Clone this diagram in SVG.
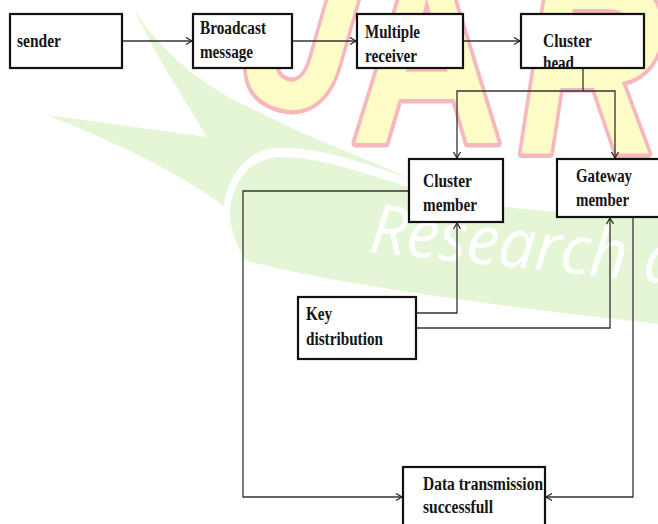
<svg xmlns="http://www.w3.org/2000/svg" width="658" height="524" viewBox="0 0 658 524">
  <style>
    .box { fill: #ffffff; stroke: #111111; stroke-width: 2.2; }
    .lbl { font-family: "Liberation Serif", "Times New Roman", serif; font-weight: bold; font-size: 18px; fill: #151515; }
    .wire { fill: none; stroke: #333333; stroke-width: 1.3; }
    .mark { font-family: "Liberation Sans", Arial, sans-serif; font-weight: bold; font-size: 250px; fill: #fefcc6; stroke: #f6b8be; stroke-width: 9; paint-order: stroke; stroke-linejoin: round; }
    .leaf { fill: #e4f6d5; }
  </style>
  <defs>
    <marker id="arrow" markerUnits="userSpaceOnUse" markerWidth="10" markerHeight="10" refX="7" refY="4" orient="auto">
      <path d="M1,0.5 L7,4 L1,7.5" fill="none" stroke="#222222" stroke-width="1.2"/>
    </marker>
  </defs>

  <rect width="658" height="524" fill="#ffffff"/>

  <!-- background watermark -->
  <g id="watermark">
    <!-- forked leaf -->
    <path class="leaf" d="M133,7 C155,55 185,100 207,137 L47,115 C110,140 175,170 224,206 C227,178 245,152 274,148 C320,146 370,165 412,180 C370,160 330,145 300,132 C270,118 245,105 233,100 C190,75 155,45 133,7 Z"/>
    <!-- sweeping band -->
    <path class="leaf" d="M230,215 C231,182 249,160 277,157 C320,156 370,175 420,191 C470,206 560,214 660,218 L660,324 C560,313 450,300 330,279 C290,271 262,265 245,260 C237,246 231,232 230,215 Z"/>
    <text class="mark" transform="translate(232,92) rotate(16) scale(0.78,1)">J</text>
    <text class="mark" transform="translate(350,143) scale(0.85,1)">A</text>
    <text class="mark" font-style="italic" transform="translate(518,153) scale(0.8,1)">R</text>
    <text x="368" y="252" transform="rotate(6 368 252)" font-family="'Open Sans', 'DejaVu Sans', sans-serif" font-style="italic" font-size="68" fill="#ffffff" textLength="312" lengthAdjust="spacingAndGlyphs">Research a</text>
  </g>

  <!-- connectors -->
  <g id="connectors">
    <path class="wire" d="M122,41 H192" marker-end="url(#arrow)"/>
    <path class="wire" d="M292,41 H356" marker-end="url(#arrow)"/>
    <path class="wire" d="M463,41 H520" marker-end="url(#arrow)"/>
    <path class="wire" d="M583,68 V91"/>
    <path class="wire" d="M583,91 H457 V158" marker-end="url(#arrow)"/>
    <path class="wire" d="M583,91 H615 V158" marker-end="url(#arrow)"/>
    <path class="wire" d="M409,191 H243 V497 H402" marker-end="url(#arrow)"/>
    <path class="wire" d="M416,313 H457 V223" marker-end="url(#arrow)"/>
    <path class="wire" d="M416,328 H610 V218" marker-end="url(#arrow)"/>
    <path class="wire" d="M633,217 V497 H546" marker-end="url(#arrow)"/>
  </g>

  <g id="sender">
    <rect class="box" x="10" y="14" width="112" height="54"/>
    <text class="lbl" x="17" y="47" textLength="44" lengthAdjust="spacingAndGlyphs">sender</text>
  </g>

  <g id="broadcast-message">
    <rect class="box" x="193" y="14" width="99" height="54"/>
    <text class="lbl" x="200" y="34" textLength="66" lengthAdjust="spacingAndGlyphs">Broadcast</text>
    <text class="lbl" x="200" y="58" textLength="53" lengthAdjust="spacingAndGlyphs">message</text>
  </g>

  <g id="multiple-receiver">
    <rect class="box" x="357" y="14" width="106" height="54"/>
    <text class="lbl" x="365" y="38" textLength="55" lengthAdjust="spacingAndGlyphs">Multiple</text>
    <text class="lbl" x="365" y="62" textLength="52" lengthAdjust="spacingAndGlyphs">receiver</text>
  </g>

  <g id="cluster-head">
    <rect class="box" x="521" y="14" width="123" height="54"/>
    <text class="lbl" x="543" y="47" textLength="49" lengthAdjust="spacingAndGlyphs">Cluster</text>
    <text class="lbl" x="543" y="69" textLength="31" lengthAdjust="spacingAndGlyphs">head</text>
  </g>

  <g id="cluster-member">
    <rect class="box" x="409" y="159" width="94" height="63"/>
    <text class="lbl" x="423" y="187" textLength="49" lengthAdjust="spacingAndGlyphs">Cluster</text>
    <text class="lbl" x="423" y="211" textLength="54" lengthAdjust="spacingAndGlyphs">member</text>
  </g>

  <g id="gateway-member">
    <rect class="box" x="557" y="159" width="106" height="58"/>
    <text class="lbl" x="576" y="182" textLength="56" lengthAdjust="spacingAndGlyphs">Gateway</text>
    <text class="lbl" x="576" y="206" textLength="53" lengthAdjust="spacingAndGlyphs">member</text>
  </g>

  <g id="key-distribution">
    <rect class="box" x="298" y="297" width="118" height="62"/>
    <text class="lbl" x="306" y="320" textLength="26" lengthAdjust="spacingAndGlyphs">Key</text>
    <text class="lbl" x="306" y="345" textLength="77" lengthAdjust="spacingAndGlyphs">distribution</text>
  </g>

  <g id="data-transmission">
    <rect class="box" x="403" y="467" width="142" height="70"/>
    <text class="lbl" x="423" y="490" textLength="120" lengthAdjust="spacingAndGlyphs">Data transmission</text>
    <text class="lbl" x="423" y="513" textLength="70" lengthAdjust="spacingAndGlyphs">successfull</text>
  </g>
</svg>
